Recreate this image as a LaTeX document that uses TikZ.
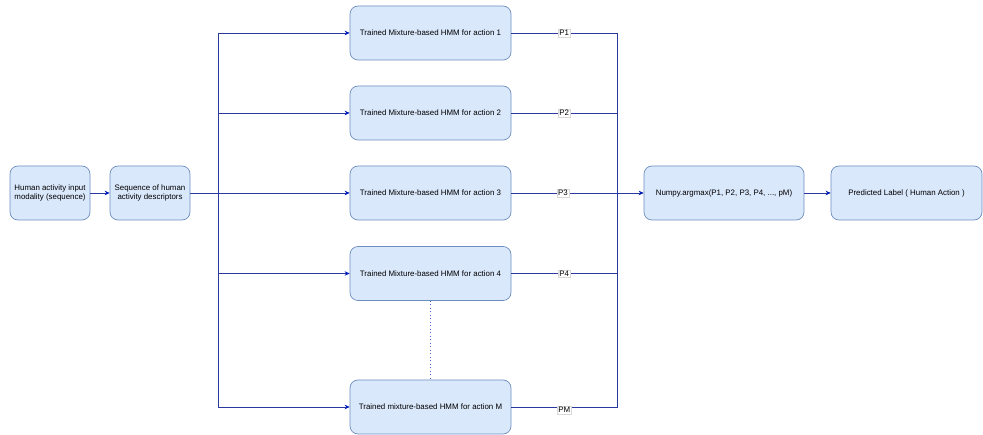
\documentclass[tikz,border=0pt]{standalone}
\usepackage{fontspec}
\setmainfont{Liberation Sans}
\usetikzlibrary{arrows.meta,calc}
\definecolor{boxfill}{HTML}{DAE8FC}
\definecolor{boxline}{HTML}{6C8EBF}
\definecolor{wire}{HTML}{2A3A9E}
\definecolor{tip}{HTML}{001DBC}
\tikzset{
  stage/.style={draw=boxline, fill=boxfill, rounded corners=8pt, line width=0.7pt,
    align=center, font=\fontsize{7.9}{9.5}\selectfont, inner sep=2pt},
  wireline/.style={draw=wire, line width=0.7pt},
  flow/.style={wireline, -{Stealth[length=5pt,width=4.5pt,color=tip]}},
  plabel/.style={fill=white, draw=gray!30, line width=0.3pt, inner sep=1pt,
    font=\fontsize{7.9}{9.5}\selectfont},
}
\begin{document}
\begin{tikzpicture}[x=1pt,y=-1pt]
\useasboundingbox (0,0) rectangle (983,435);

% input stage
\node[stage, minimum width=80pt, minimum height=54pt] (input) at (50,193)
  {Human activity input\\modality (sequence)};
\node[stage, minimum width=80pt, minimum height=54pt] (desc) at (150,193)
  {Sequence of human\\activity descriptors};

% one trained model per action
\node[stage, minimum width=161pt, minimum height=54pt] (h1) at (430.5,33) {Trained Mixture-based HMM for action 1};
\node[stage, minimum width=161pt, minimum height=54pt] (h2) at (430.5,113) {Trained Mixture-based HMM for action 2};
\node[stage, minimum width=161pt, minimum height=54pt] (h3) at (430.5,193) {Trained Mixture-based HMM for action 3};
\node[stage, minimum width=161pt, minimum height=54pt] (h4) at (430.5,273.5) {Trained Mixture-based HMM for action 4};
\node[stage, minimum width=161pt, minimum height=54pt] (hM) at (430.5,407) {Trained mixture-based HMM for action M};

% decision stages
\node[stage, minimum width=160pt, minimum height=54pt] (argmax) at (724,193) {Numpy.argmax(P1, P2, P3, P4, ..., pM)};
\node[stage, minimum width=151pt, minimum height=54pt] (pred) at (906.5,193) {Predicted Label ( Human Action )};

\coordinate (split) at (218,193);
\coordinate (join) at (617,193);

% fan-out to the models
\draw[flow] (input) -- (desc);
\draw[wireline] (desc.east) -- (split);
\draw[flow] (split) |- (h1.west);
\draw[flow] (split) |- (h2.west);
\draw[flow] (split) -- (h3.west);
\draw[flow] (split) |- (h4.west);
\draw[flow] (split) |- (hM.west);

% further models omitted
\draw[draw=tip!70, line width=1pt, dash pattern=on 1pt off 2.5pt] (h4.south) -- (hM.north);

% likelihoods gathered into argmax
\draw[wireline] (h1.east) -| node[plabel, pos=0.25] {P1} (join);
\draw[wireline] (h2.east) -| node[plabel, pos=0.25] {P2} (join);
\draw[wireline] (h4.east) -| node[plabel, pos=0.25] {P4} (join);
\draw[wireline] (hM.east) -| node[plabel, pos=0.25, yshift=-3pt] {PM} (join);
\draw[flow] (h3.east) -- node[plabel, pos=0.39] {P3} (argmax.west);
\draw[flow] (argmax) -- (pred);
\end{tikzpicture}
\end{document}
